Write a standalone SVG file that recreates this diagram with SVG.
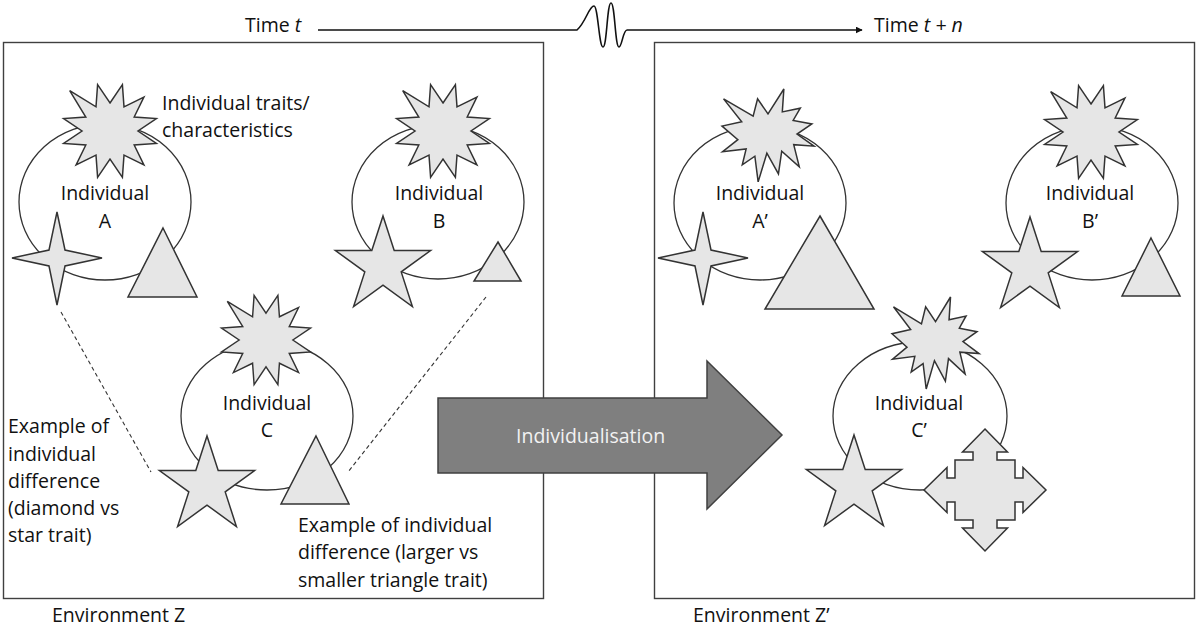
<svg xmlns="http://www.w3.org/2000/svg" xmlns:xlink="http://www.w3.org/1999/xlink" width="1196" height="630" viewBox="0 0 1196 630">
  <style>
    text { font-family: "Open Sans", "Noto Sans", sans-serif; font-size: 19.5px; fill: #111; }
    .mid { text-anchor: middle; }
    .env { fill: none; stroke: #404040; stroke-width: 1.4; }
    .body { fill: none; stroke: #333; stroke-width: 1.3; }
    .trait { fill: #e6e6e6; stroke: #333; stroke-width: 1.5; stroke-linejoin: miter; }
    .dash { fill: none; stroke: #333; stroke-width: 1.1; stroke-dasharray: 4 3; }
    .axis { fill: none; stroke: #111; stroke-width: 1.6; }
    .big { fill: #7f7f7f; stroke: #404040; stroke-width: 1.5; }
    .big-label { fill: #f2f2f2; }
  </style>
  <defs>
    <!-- twelve-point burst, centred on 0,0 -->
    <path id="burst" d="M0,-28 L12.4,-46.4 L14,-24.2 L33.9,-33.9 L24.2,-14 L46.4,-12.4 L28,0 L46.4,12.4 L24.2,14 L33.9,33.9 L14,24.2 L12.4,46.4 L0,28 L-12.4,46.4 L-14,24.2 L-33.9,33.9 L-24.2,14 L-46.4,12.4 L-28,0 L-46.4,-12.4 L-24.2,-14 L-40.3,-40.3 L-14,-24.2 L-12.4,-46.4 Z"/>
    <!-- irregular explosion in a 216 x 216 box -->
    <path id="explosion" vector-effect="non-scaling-stroke" d="M108,58 L145.22,0 L141.55,53.25 L183.8,44.57 L167.02,73.15 L210.97,81.37 L176.07,104.75 L216,132.9 L168.37,129.42 L181.45,180.95 L140.2,144.57 L132.47,197.37 L105.32,149.35 L84.85,216 L77.15,156.27 L47.62,176.17 L56.67,139.37 L1.35,145.87 L37.22,117.75 L0,86.15 L46.27,76.17 L3.7,22.95 L73.12,63.2 L83.52,22.95 Z"/>
    <!-- five-point star, centred on 0,0 -->
    <path id="star5" d="M0,-50 L11.2,-15.5 L47.6,-15.5 L18.2,5.9 L29.4,40.5 L0,19.1 L-29.4,40.5 L-18.2,5.9 L-47.6,-15.5 L-11.2,-15.5 Z"/>
    <!-- four-point star, centred on 0,0 -->
    <path id="star4" d="M0,-46 L8,-8 L45,0 L8,8 L0,47 L-8,8 L-45,0 L-8,-8 Z"/>
    <!-- quad arrow, centred on 0,0 -->
    <path id="quad" d="M0,-61 L22.5,-38 L12,-38 L12,-30 L30,-30 L30,-12 L38,-12 L38,-22.5 L61,0 L38,22.5 L38,12 L30,12 L30,30 L12,30 L12,38 L22.5,38 L0,61 L-22.5,38 L-12,38 L-12,30 L-30,30 L-30,12 L-38,12 L-38,22.5 L-61,0 L-38,-22.5 L-38,-12 L-30,-12 L-30,-30 L-12,-30 L-12,-38 L-22.5,-38 Z"/>
    <marker id="head" viewBox="0 0 10 10" refX="9" refY="5" markerWidth="7" markerHeight="7" markerUnits="userSpaceOnUse" orient="auto">
      <path d="M0,0 L10,5 L0,10 Z" fill="#111"/>
    </marker>
  </defs>

  <!-- environments -->
  <g id="environment-z">
    <rect class="env" x="3.5" y="42.5" width="540" height="556"/>
    <text x="52" y="622">Environment Z</text>
  </g>
  <g id="environment-z-prime">
    <rect class="env" x="654.5" y="42.5" width="540" height="556"/>
    <text x="693" y="622">Environment Z’</text>
  </g>

  <!-- time axis labels -->
  <text x="245" y="32">Time <tspan font-style="italic">t</tspan></text>
  <text x="874" y="32">Time <tspan font-style="italic">t + n</tspan></text>

  <!-- individuals at time t -->
  <g id="individual-a">
    <ellipse class="body" cx="105" cy="202" rx="86" ry="78"/>
    <use href="#burst" class="trait" transform="translate(110,131)"/>
    <use href="#star4" class="trait" transform="translate(57,258)"/>
    <polygon class="trait" points="163,228 197,297 128,297"/>
    <text class="mid" x="105" y="200">Individual</text>
    <text class="mid" x="105" y="228">A</text>
  </g>
  <text id="traits-label" x="162" y="110">Individual traits/<tspan x="162" y="137">characteristics</tspan></text>

  <g id="individual-b">
    <ellipse class="body" cx="438" cy="202" rx="86" ry="77"/>
    <use href="#burst" class="trait" transform="translate(443,131)"/>
    <use href="#star5" class="trait" transform="translate(383,266)"/>
    <polygon class="trait" points="498,242 521,281 474,281"/>
    <text class="mid" x="439" y="200">Individual</text>
    <text class="mid" x="439" y="228">B</text>
  </g>

  <g id="individual-c">
    <ellipse class="body" cx="267" cy="416" rx="86" ry="74"/>
    <use href="#burst" class="trait" transform="translate(266,340) scale(0.96)"/>
    <use href="#star5" class="trait" transform="translate(207,486)"/>
    <polygon class="trait" points="316,436 349,504 281,504"/>
    <text class="mid" x="267" y="410">Individual</text>
    <text class="mid" x="267" y="437">C</text>
  </g>

  <g id="note-diamond-star">
    <text x="8" y="433">Example of</text>
    <text x="8" y="461">individual</text>
    <text x="8" y="488">difference</text>
    <text x="8" y="515">(diamond vs</text>
    <text x="8" y="542">star trait)</text>
  </g>
  <g id="note-triangle">
    <text x="298" y="532">Example of individual</text>
    <text x="298" y="559">difference (larger vs</text>
    <text x="298" y="587">smaller triangle trait)</text>
  </g>

  <!-- individuals at time t + n -->
  <g id="individual-a-prime">
    <ellipse class="body" cx="760" cy="203" rx="86" ry="77"/>
    <use href="#explosion" class="trait" transform="translate(722,89) scale(0.426,0.43)"/>
    <use href="#star4" class="trait" transform="translate(703,258)"/>
    <polygon class="trait" points="820,216 874,309 765,309"/>
    <text class="mid" x="760" y="200">Individual</text>
    <text class="mid" x="760" y="228">A’</text>
  </g>

  <g id="individual-b-prime">
    <ellipse class="body" cx="1092" cy="203" rx="86" ry="77"/>
    <use href="#burst" class="trait" transform="translate(1091,132)"/>
    <use href="#star5" class="trait" transform="translate(1030,267)"/>
    <polygon class="trait" points="1151,238 1180,296 1122,296"/>
    <text class="mid" x="1090" y="200">Individual</text>
    <text class="mid" x="1090" y="228">B’</text>
  </g>

  <g id="individual-c-prime">
    <ellipse class="body" cx="920" cy="416" rx="87" ry="74"/>
    <use href="#explosion" class="trait" transform="translate(892,297) scale(0.403,0.426)"/>
    <use href="#star5" class="trait" transform="translate(854,485)"/>
    <use href="#quad" class="trait" transform="translate(985,490)"/>
    <text class="mid" x="919" y="410">Individual</text>
    <text class="mid" x="919" y="437">C’</text>
  </g>

  <!-- connectors -->
  <g id="connectors">
    <path class="axis" marker-end="url(#head)" d="M318,30 L577,30 C586,22 589,6 594,6 C598,6 599,47 603,47 C607,47 607,3 611,3 C615,3 615,47 619,47 C622,47 623,30 627,30 L862,30"/>
    <line class="dash" x1="61" y1="312" x2="151" y2="472"/>
    <line class="dash" x1="486" y1="297" x2="348" y2="472"/>
  </g>

  <!-- process arrow -->
  <g id="individualisation">
    <path class="big" d="M438,398 L707,398 L707,361 L782,435 L707,509 L707,473 L438,473 Z"/>
    <text class="big-label" x="516" y="443">Individualisation</text>
  </g>
</svg>
